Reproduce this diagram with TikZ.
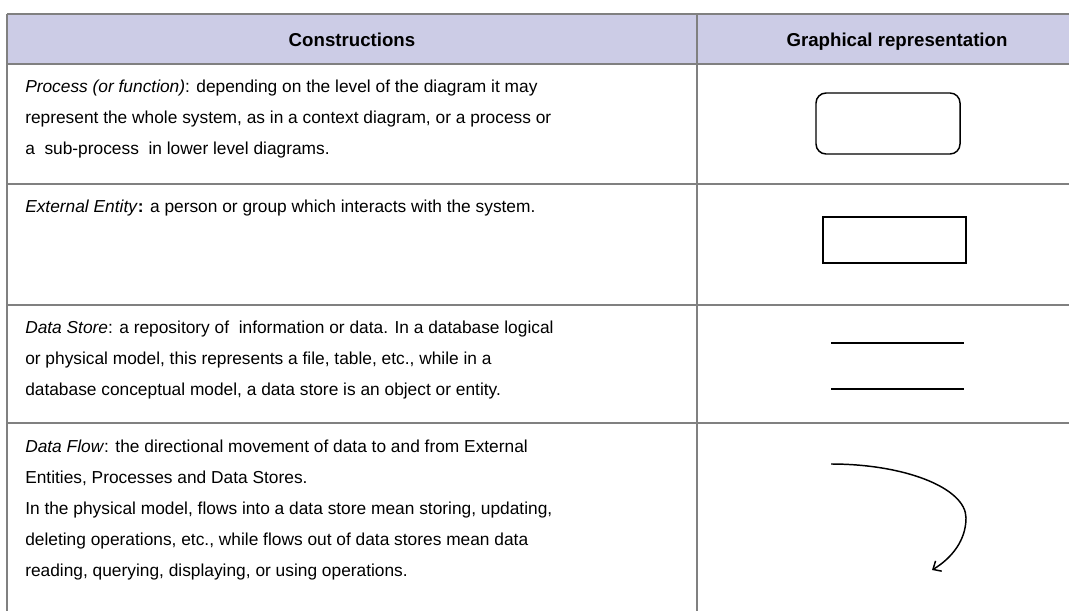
\documentclass[tikz,border=0pt]{standalone}
\usepackage{fontspec}
\setmainfont{Liberation Sans}
\usetikzlibrary{arrows.meta}
\definecolor{headfill}{RGB}{204,204,230}
\definecolor{rulegray}{RGB}{128,128,128}
\tikzset{
  rule/.style={draw=rulegray, line width=1.5pt},
  headtext/.style={font=\fontsize{14}{16}\selectfont\bfseries, anchor=base, inner sep=0pt},
  celltext/.style={font=\fontsize{13}{23.25}\selectfont, anchor=base west, align=left, inner sep=0pt},
  symbolbox/.style={draw, line width=1.1pt, inner sep=0pt}
}
\begin{document}
\begin{tikzpicture}[x=0.75pt, y=-0.75pt]
\useasboundingbox (0,0) rectangle (1069,610);
\fill[headfill] (7,14) rectangle (1100,64);
\draw[rule] (7,14) -- (1100,14);
\draw[rule] (7,64) -- (1100,64);
\draw[rule] (7,184) -- (1100,184);
\draw[rule] (7,305) -- (1100,305);
\draw[rule] (7,423) -- (1100,423);
\draw[rule] (7,14) -- (7,620);
\draw[rule] (697,14) -- (697,620);
\node[headtext] (headleft) at (352,46) {Constructions};
\node[headtext] (headright) at (897,46) {Graphical representation};
\node[celltext] (processtxt) at (25,154) {\textit{Process (or function)}: depending on the level of the diagram it may\\represent the whole system, as in a context diagram, or a process or\\a\ \ sub-process\ \ in lower level diagrams.};
\node[celltext] (entitytxt) at (25,212) {\textit{External Entity}\textbf{:} a person or group which interacts with the system.};
\node[celltext] (storetxt) at (25,395) {\textit{Data Store}: a repository of\ \ information or data. In a database logical\\or physical model, this represents a file, table, etc., while in a\\database conceptual model, a data store is an object or entity.};
\node[celltext] (flowtxt) at (25,576) {\textit{Data Flow}: the directional movement of data to and from External\\Entities, Processes and Data Stores.\\In the physical model, flows into a data store mean storing, updating,\\deleting operations, etc., while flows out of data stores mean data\\reading, querying, displaying, or using operations.};
\node[symbolbox, rounded corners=7.5pt, minimum width=108pt, minimum height=45.75pt] (processbox) at (888,123.5) {};
\node[symbolbox, minimum width=107.25pt, minimum height=34.5pt] (entitybox) at (894.5,240) {};
\coordinate (storetopa) at (831,343);
\coordinate (storetopb) at (964,343);
\coordinate (storebota) at (831,389);
\coordinate (storebotb) at (964,389);
\draw[line width=1.1pt] (storetopa) -- (storetopb);
\draw[line width=1.1pt] (storebota) -- (storebotb);
\coordinate (flowstart) at (831,464);
\coordinate (flowend) at (932,570);
\draw[line width=1.1pt, -{Straight Barb[length=5pt, width=9pt]}] (flowstart) .. controls (905,464) and (966,488) .. (966,518) .. controls (966,540) and (952,558) .. (flowend);
\end{tikzpicture}
\end{document}
